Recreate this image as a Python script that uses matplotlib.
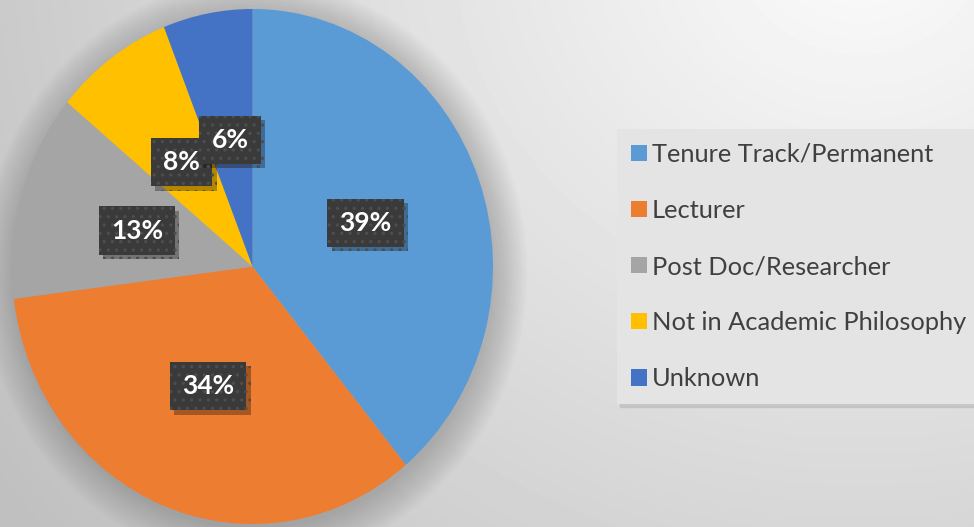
import numpy as np
import matplotlib
matplotlib.use("Agg")
import matplotlib.pyplot as plt
import matplotlib.patheffects as pe
from matplotlib.patches import Ellipse

categories = ["Tenure Track/Permanent", "Lecturer", "Post Doc/Researcher",
              "Not in Academic Philosophy", "Unknown"]
shares = [39, 34, 13, 8, 6]
colors = ["#5B9BD5", "#ED7D31", "#A5A5A5", "#FFC000", "#4472C4"]

plt.rcParams["font.family"] = ["Lato", "DejaVu Sans"]
plt.rcParams["hatch.linewidth"] = 1.2

W, H = 974, 527
fig = plt.figure(figsize=(W / 100, H / 100), dpi=100)

# background gradient, light in the top right corner
bg = fig.add_axes([0, 0, 1, 1])
yy, xx = np.mgrid[0:H, 0:W]
d = np.hypot(xx - 860, (yy + 60) * 1.1) / 900.0
shade = np.clip(0.985 - 0.2 * d, 0.75, 1.0)
bg.imshow(shade, cmap="gray", vmin=0, vmax=1, extent=[0, W, H, 0], aspect="auto")
bg.axis("off")

# pie area (stretched slightly taller than wide, like the source)
ax = fig.add_axes([12 / W, 3 / H, 481 / W, 515 / H])

# soft shadow around the pie
for k in range(12):
    ax.add_patch(Ellipse((0.01, -0.02), 2 * (1.0 + 0.012 * k), 2 * (1.0 + 0.012 * k),
                         facecolor="black", alpha=0.016, linewidth=0, clip_on=False, zorder=0))

wedges, texts, autotexts = ax.pie(
    shares, colors=colors, startangle=90, counterclock=False,
    autopct="%d%%", pctdistance=0.5,
    wedgeprops=dict(linewidth=0),
    textprops=dict(color="white", fontsize=19, fontweight="bold"),
)
ax.set_xlim(-1, 1)
ax.set_ylim(-1, 1)
ax.set_aspect("auto")

for t in autotexts:
    t.set_bbox(dict(boxstyle="square,pad=0.46", facecolor="#3a3a3a",
                    edgecolor="#4d4d4d", linewidth=0, hatch=".."))
    t.get_bbox_patch().set_path_effects([
        pe.SimplePatchShadow(offset=(3, -3), shadow_rgbFace="black", alpha=0.3),
        pe.Normal(),
    ])

leg = fig.legend(
    wedges, categories,
    loc="upper left", bbox_to_anchor=(617 / W, 1 - 129 / H), borderaxespad=0,
    fontsize=18.3, handlelength=0.63, handleheight=0.63, handletextpad=0.2,
    labelspacing=1.3, borderpad=0.55, frameon=True, fancybox=False,
    facecolor="#e4e4e4", edgecolor="none", framealpha=1,
    shadow={"color": "#b8b8b8", "alpha": 0.6},
)
for txt in leg.get_texts():
    txt.set_color("#404040")

fig.savefig("out.png", dpi=100)
